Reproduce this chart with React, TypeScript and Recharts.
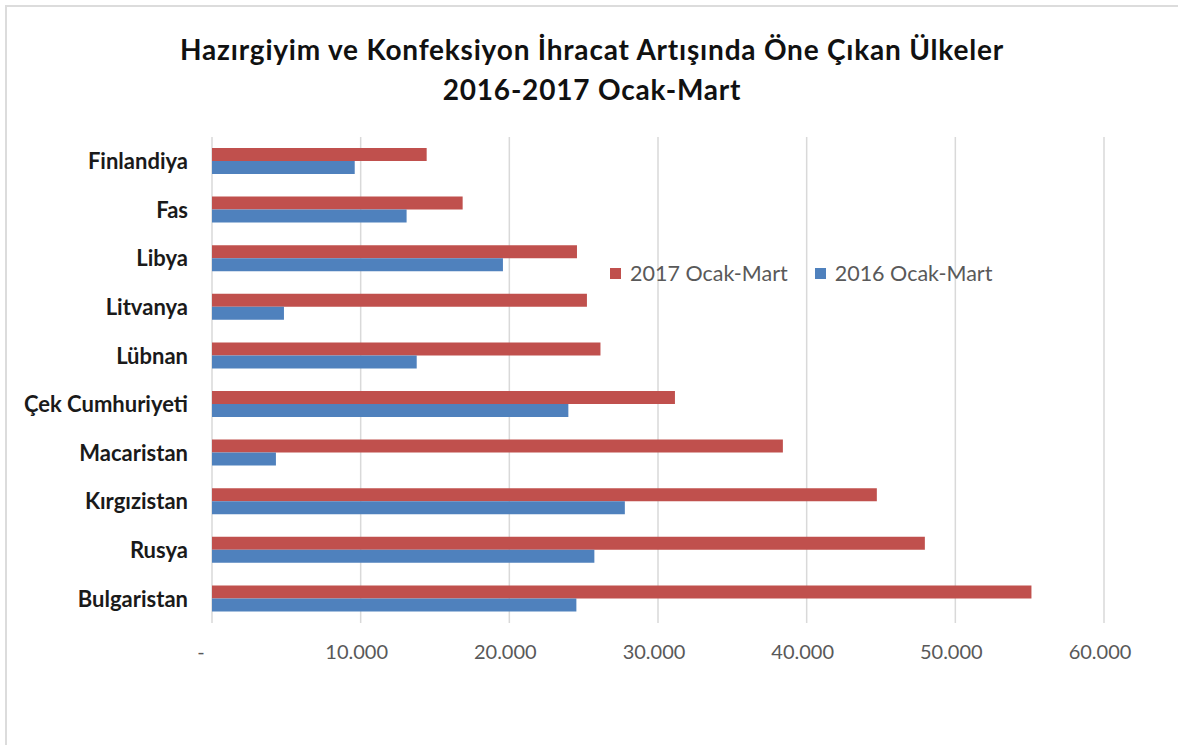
import React from "react";
import { BarChart, Bar, XAxis, YAxis, CartesianGrid, Legend } from "recharts";

const categories = [
  "Finlandiya",
  "Fas",
  "Libya",
  "Litvanya",
  "Lübnan",
  "Çek Cumhuriyeti",
  "Macaristan",
  "Kırgızistan",
  "Rusya",
  "Bulgaristan",
];
const values2017 = [14440, 16860, 24550, 25220, 26130, 31140, 38400, 44720, 47950, 55120];
const values2016 = [9600, 13090, 19570, 4840, 13770, 23970, 4300, 27770, 25720, 24510];
const xTicks = [0, 10000, 20000, 30000, 40000, 50000, 60000];
const seriesNames = ["2017 Ocak-Mart", "2016 Ocak-Mart"];
const titleLines = [
  "Hazırgiyim ve Konfeksiyon İhracat Artışında Öne Çıkan Ülkeler",
  "2016-2017 Ocak-Mart",
];

const data = categories.map((c, i) => ({ name: c, y2017: values2017[i], y2016: values2016[i] }));

const FONT = "Lato, 'Open Sans', sans-serif";

const fmt = (n: number) => (n === 0 ? "-" : `${Math.round(n / 1000)}.000`);

const XTick = (props: any) => {
  const { x, y, payload } = props;
  const v = payload.value as number;
  return (
    <text
      x={x + (v === 0 ? -11 : -4)}
      y={y + 36}
      textAnchor="middle"
      fill="#595959"
      fontSize={20}
      fontFamily={FONT}
    >
      {fmt(v)}
    </text>
  );
};

const LegendContent = (props: any) => {
  const items = [...(props.payload || [])].sort(
    (a: any, b: any) => seriesNames.indexOf(a.value) - seriesNames.indexOf(b.value)
  );
  return (
    <div style={{ display: "flex", alignItems: "center", fontFamily: FONT, fontSize: 21.5, color: "#595959", whiteSpace: "nowrap" }}>
      {items.map((p: any, i: number) => (
        <div key={i} style={{ display: "flex", alignItems: "center", marginRight: i === 0 ? 27 : 0 }}>
          <span style={{ display: "inline-block", width: 11, height: 11, background: p.color, marginRight: 9 }} />
          <span>{p.value}</span>
        </div>
      ))}
    </div>
  );
};

export default function App() {
  return (
    <div style={{ position: "absolute", left: 0, top: 0, width: 1178, height: 745, background: "#fff", overflow: "hidden" }}>
      <div
        style={{
          position: "absolute",
          left: 5,
          top: 5,
          width: 1173,
          height: 740,
          borderTop: "2px solid #dcdcdc",
          borderLeft: "2px solid #dcdcdc",
        }}
      />
      <div
        style={{
          position: "absolute",
          left: 0,
          top: 29,
          width: 1184,
          textAlign: "center",
          fontFamily: FONT,
          fontWeight: 700,
          fontSize: 28,
          letterSpacing: 0.8,
          lineHeight: "40px",
          color: "#111",
        }}
      >
        <div>{titleLines[0]}</div>
        <div>{titleLines[1]}</div>
      </div>
      <div style={{ position: "absolute", left: 0, top: 0 }}>
        <BarChart
          width={1178}
          height={745}
          data={data}
          layout="vertical"
          margin={{ top: 137, right: 74, bottom: 92, left: 0 }}
          barGap={0}
          barSize={13}
        >
          <CartesianGrid horizontal={false} vertical={true} stroke="#d9d9d9" strokeWidth={1.5} />
          <XAxis
            type="number"
            domain={[0, 60000]}
            ticks={xTicks}
            axisLine={false}
            tickLine={false}
            tickSize={0}
            tickMargin={0}
            tick={<XTick />}
            height={30}
          />
          <YAxis
            type="category"
            dataKey="name"
            width={212}
            axisLine={false}
            tickLine={false}
            tickSize={0}
            tickMargin={24}
            interval={0}
            tick={{ fill: "#1a1a1a", fontSize: 22, fontWeight: 700, fontFamily: FONT }}
          />
          <Legend
            layout="horizontal"
            verticalAlign="middle"
            align="center"
            content={<LegendContent />}
            wrapperStyle={{ left: 610, top: 260, width: "auto" }}
          />
          <Bar dataKey="y2017" name={seriesNames[0]} fill="#C0504D" isAnimationActive={false} />
          <Bar dataKey="y2016" name={seriesNames[1]} fill="#4F81BD" isAnimationActive={false} />
        </BarChart>
      </div>
    </div>
  );
}
